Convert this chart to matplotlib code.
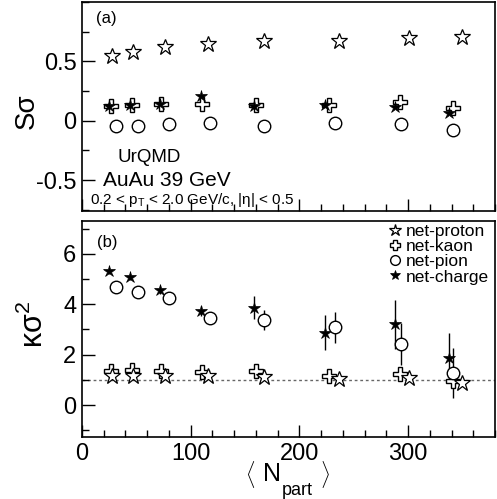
import matplotlib
matplotlib.use("Agg")
import matplotlib.pyplot as plt
from matplotlib.ticker import MultipleLocator

plt.rcParams['font.family'] = ['Liberation Sans', 'DejaVu Sans']
plt.rcParams['mathtext.fontset'] = 'custom'
plt.rcParams['mathtext.rm'] = 'Liberation Sans'
plt.rcParams['mathtext.it'] = 'Liberation Sans:italic'
plt.rcParams['mathtext.bf'] = 'Liberation Sans:bold'

# ---- data ----
x_proton = [27.5, 47, 76, 115.5, 167, 236, 301, 350]
x_kaon = [26.6, 45.6, 73, 110.6, 160.5, 227.5, 292.4, 341.3]
x_pion = [31.5, 51.4, 80.4, 118, 167, 232.4, 293.9, 341]
x_charge = [24.5, 44.6, 71.8, 109.2, 157.8, 223.9, 288, 337.6]

s_proton = [0.547, 0.583, 0.617, 0.650, 0.672, 0.675, 0.694, 0.703]
s_kaon = [0.125, 0.133, 0.139, 0.144, 0.133, 0.131, 0.158, 0.111]
s_pion = [-0.047, -0.044, -0.031, -0.019, -0.047, -0.022, -0.028, -0.078]
s_charge = [0.122, 0.131, 0.139, 0.206, 0.122, 0.131, 0.117, 0.067]

k_proton = [1.16, 1.16, 1.16, 1.16, 1.12, 1.04, 1.08, 0.86]
k_kaon = [1.34, 1.41, 1.34, 1.33, 1.34, 1.16, 1.22, 0.96]
k_pion = [4.68, 4.48, 4.24, 3.44, 3.39, 3.08, 2.42, 1.28]
k_charge = [5.32, 5.07, 4.57, 3.72, 3.87, 2.87, 3.20, 1.87]

ke_proton = [0.04, 0.04, 0.04, 0.05, 0.05, 0.06, 0.07, 0.1]
ke_kaon = [0.04, 0.04, 0.04, 0.05, 0.05, 0.06, 0.07, 0.1]
ke_pion = [0.08, 0.08, 0.1, 0.12, 0.40, 0.61, 0.82, 0.98]
ke_charge = [0.12, 0.12, 0.15, 0.20, 0.45, 0.69, 0.97, 1.0]

labels = ['net-proton', 'net-kaon', 'net-pion', 'net-charge']

fig = plt.figure(figsize=(4.97, 4.99), dpi=100)
axa = fig.add_axes([0.165, 0.577, 0.831, 0.419])
axb = fig.add_axes([0.165, 0.124, 0.831, 0.433])

open_star = dict(marker='*', ms=12, mfc='white', mec='black', mew=0.9, ls='none')
open_cross = dict(marker='P', ms=10, mfc='white', mec='black', mew=1.0, ls='none')
open_circ = dict(marker='o', ms=9, mfc='white', mec='black', mew=1.0, ls='none')
fill_star = dict(marker='*', ms=9, mfc='black', mec='black', mew=0.5, ls='none')

# panel a
axa.plot(x_kaon, s_kaon, **open_cross)
axa.plot(x_proton, s_proton, **open_star)
axa.plot(x_charge, s_charge, **fill_star)
axa.plot(x_pion, s_pion, **open_circ)

# panel b
axb.axhline(1.0, color='#666666', ls=(0, (2, 2)), lw=1.0, zorder=0)
ekw = dict(ecolor='black', elinewidth=1.0, capsize=0)
hk = axb.errorbar(x_kaon, k_kaon, yerr=ke_kaon, **open_cross, **ekw, label=labels[1])
hp = axb.errorbar(x_proton, k_proton, yerr=ke_proton, **open_star, **ekw, label=labels[0])
hc = axb.errorbar(x_charge, k_charge, yerr=ke_charge, **fill_star, **ekw, label=labels[3])
hpi = axb.errorbar(x_pion, k_pion, yerr=ke_pion, **open_circ, **ekw, label=labels[2])

leg = axb.legend([hp[0], hk[0], hpi[0], hc[0]], labels, loc='upper right', bbox_to_anchor=(1.01, 1.035),
                 frameon=False, fontsize=12.5, labelspacing=0.0, handlelength=0.6,
                 handletextpad=0.3, borderpad=0.1, markerscale=0.78)

for ax in (axa, axb):
    ax.set_xlim(0, 380)
    ax.xaxis.set_major_locator(MultipleLocator(100))
    ax.xaxis.set_minor_locator(MultipleLocator(20))
    ax.tick_params(which='both', direction='in', top=False, right=False, labelsize=17, width=1.0, pad=4)
    ax.tick_params(which='major', length=9)
    ax.tick_params(which='minor', length=5)
    for sp in ax.spines.values():
        sp.set_linewidth(1.2)

axa.set_ylim(-0.76, 1.0)
axa.yaxis.set_minor_locator(MultipleLocator(0.25))
axa.set_yticks([-0.5, 0, 0.5])
axa.set_yticklabels(['-0.5', '0', '0.5'])
axa.tick_params(axis='x', labelbottom=False)

axb.set_ylim(-1.27, 7.3)
axb.set_yticks([0, 2, 4, 6])
axb.yaxis.set_minor_locator(MultipleLocator(1))
axb.set_xticks([0, 100, 200, 300])

axa.text(12.8, 0.86, '(a)', fontsize=12, va='center')
axa.text(33, -0.31, 'UrQMD', fontsize=13.5, va='center')
axa.text(19.3, -0.5, 'AuAu 39 GeV', fontsize=15, va='center')
axa.text(7.3, -0.665, r'0.2 < p$_{\mathrm{T}}$ < 2.0 GeV/c, |η| < 0.5', fontsize=11, va='center')
axb.text(13.7, 6.45, '(b)', fontsize=12, va='center')

fig.text(0.053, 0.777, 'Sσ', rotation=90, fontsize=20, ha='center', va='center')
fig.text(0.07, 0.35, r'$\mathrm{\kappa\sigma}^{2}$', rotation=90, fontsize=22, ha='center', va='center')

# x-axis title: < N_part >
fig.text(0.503, 0.050, r'$\langle$', fontsize=15, ha='center', va='center')
fig.text(0.547, 0.050, 'N', fontsize=18, ha='center', va='center')
fig.text(0.568, 0.018, 'part', fontsize=13, ha='left', va='center')
fig.text(0.654, 0.050, r'$\rangle$', fontsize=15, ha='center', va='center')

fig.savefig('out.png', dpi=100)
